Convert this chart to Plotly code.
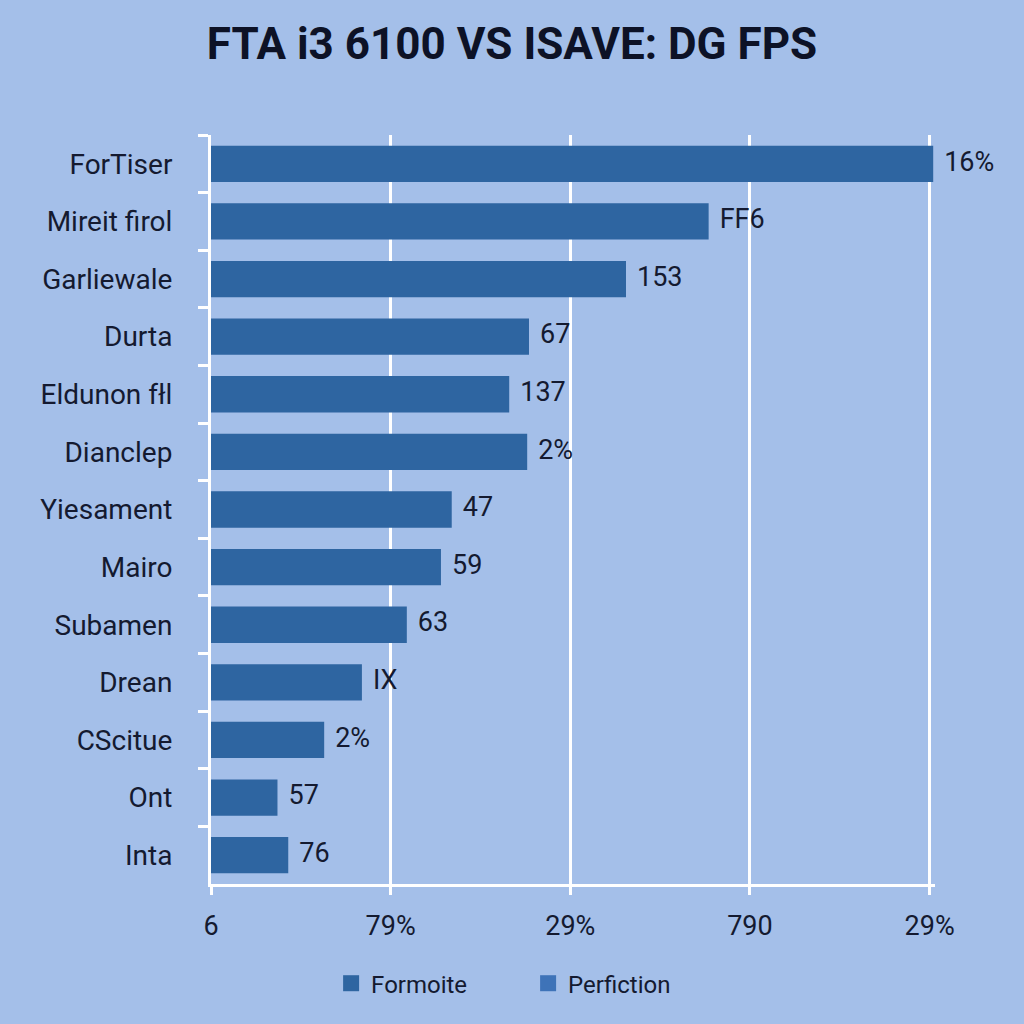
import plotly.graph_objects as go

categories = ["ForTiser", "Mireit firol", "Garliewale", "Durta", "Eldunon fłl", "Dianclep",
              "Yiesament", "Mairo", "Subamen", "Drean", "CScitue", "Ont", "Inta"]
values = [4.02, 2.77, 2.31, 1.77, 1.66, 1.76, 1.34, 1.28, 1.09, 0.84, 0.63, 0.37, 0.43]
value_labels = ["16%", "FF6", "153", "67", "137", "2%", "47", "59", "63", "IX", "2%", "57", "76"]
tick_vals = [0, 1, 2, 3, 4]
tick_text = ["6", "79%", "29%", "790", "29%"]
legend_names = ["Formoite", "Perfiction"]

BG = "#a4bfe9"
BAR = "#2e65a1"
BAR2 = "#3e73b8"
TXT = "#141a30"

fig = go.Figure()
fig.add_trace(go.Bar(
    y=categories, x=values, orientation="h",
    marker=dict(color=BAR, line=dict(width=0)),
    showlegend=False, hoverinfo="skip",
))
fig.add_trace(go.Scatter(
    y=categories, x=values, mode="markers+text",
    marker=dict(size=16, opacity=0),
    text=value_labels, textposition="middle right", cliponaxis=False,
    textfont=dict(family="Roboto", size=27, color=TXT),
    showlegend=False, hoverinfo="skip",
))
for name, col in zip(legend_names, [BAR, BAR2]):
    fig.add_trace(go.Scatter(
        x=[None], y=[None], mode="markers", name=name,
        marker=dict(symbol="square", size=24, color=col),
    ))

n = len(categories)
fig.update_layout(
    width=1024, height=1024, autosize=False,
    paper_bgcolor=BG, plot_bgcolor=BG,
    margin=dict(l=211, r=89, t=135, b=140, autoexpand=False),
    title=dict(text="<b>FTA i3 6100 VS ISAVE: DG FPS</b>", x=0.5, xanchor="center",
               xref="container", y=0.957, yanchor="middle",
               font=dict(family="Roboto", size=44, color="#0d1226")),
    bargap=0.37,
    showlegend=True,
    legend=dict(orientation="h", x=0.438, xanchor="center",
                y=-0.133, yanchor="middle",
                font=dict(family="Roboto", size=24, color=TXT),
                bgcolor="rgba(0,0,0,0)", itemsizing="trace",
                entrywidth=152, entrywidthmode="pixels"),
)
fig.update_xaxes(
    range=[0, 4.03], tickvals=tick_vals, ticktext=tick_text, tickangle=0,
    showgrid=True, gridcolor="white", gridwidth=3,
    showline=True, linecolor="white", linewidth=3,
    ticks="outside", ticklen=8, tickcolor="white", tickwidth=3,
    tickfont=dict(family="Roboto", size=27, color=TXT),
    ticklabelstandoff=8, zeroline=False, fixedrange=True,
)
fig.update_yaxes(
    range=[n - 0.5, -0.5], tickson="boundaries",
    showline=True, linecolor="white", linewidth=3,
    ticks="outside", ticklen=10, tickcolor="white", tickwidth=3,
    tickfont=dict(family="Roboto", size=28, color=TXT),
    ticklabelstandoff=30, showgrid=False, fixedrange=True,
)

fig.write_html("out.html", config={"displayModeBar": False},
               post_script="document.body.style.margin='0';document.body.style.overflow='hidden';")
